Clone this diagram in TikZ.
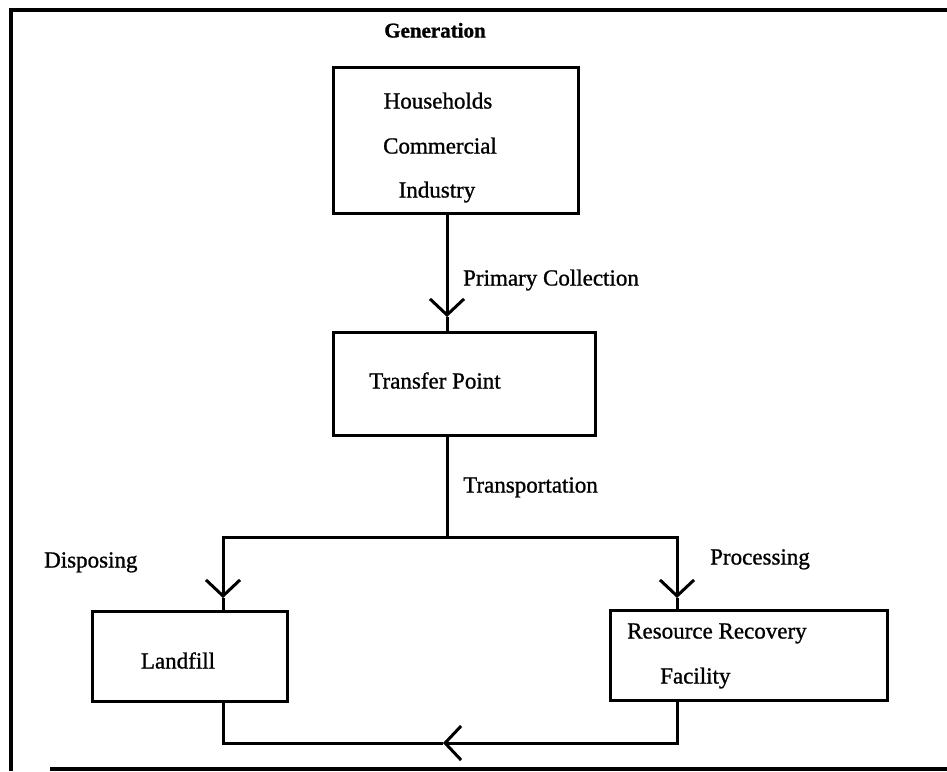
\documentclass[tikz,border=0pt]{standalone}
\usepackage{fontspec}
\setmainfont{Liberation Serif}[FakeBold=1.2]
\newfontfamily\heavyserif{Liberation Serif}[FakeBold=1.0]
\usetikzlibrary{arrows.meta}
\tikzset{
  flowbox/.style={draw, line width=3pt, inner sep=0pt},
  wire/.style={line width=3pt},
  flowtip/.style={-{Straight Barb[length=16pt,width=34pt,line width=3pt]}},
  lbl/.style={inner sep=0pt, font=\heavyserif\fontsize{23}{27}\selectfont,
              text height=16pt, text depth=5pt},
  frame/.style={line width=3.2pt}
}
\begin{document}
\begin{tikzpicture}[x=1pt,y=-1pt]
  \useasboundingbox (0,0) rectangle (947,771);

  % page frame
  \draw[frame] (947,10) -- (11,10) -- (11,771);
  \draw[frame] (50,769) -- (947,769);

  % stages
  \node[flowbox, minimum width=245pt, minimum height=146pt] (gen)      at (455.5,140) {};
  \node[flowbox, minimum width=262pt, minimum height=103pt] (transfer) at (464,383.5) {};
  \node[flowbox, minimum width=195pt, minimum height=90pt]  (landfill) at (189.5,656) {};
  \node[flowbox, minimum width=277pt, minimum height=90pt]  (rrf)      at (748.5,655) {};

  % box texts
  \node[lbl, font=\fontsize{21}{25}\selectfont\bfseries] (tgen) at (435,32) {Generation};
  \node[lbl] (thh)  at (438,103) {Households};
  \node[lbl] (tcom) at (440,148) {Commercial};
  \node[lbl] (tind) at (437,192) {Industry};
  \node[lbl] (ttp)  at (435,383) {Transfer Point};
  \node[lbl] (tlf)  at (178,663) {Landfill};
  \node[lbl, anchor=west] (trr)  at (627,633) {Resource Recovery};
  \node[lbl, anchor=west] (tfac) at (660,678) {Facility};

  % flow labels
  \node[lbl, anchor=west] (lpc)  at (463,280) {Primary Collection};
  \node[lbl, anchor=west] (ltr)  at (463,487) {Transportation};
  \node[lbl, anchor=west] (ldis) at (44,562)  {Disposing};
  \node[lbl, anchor=west] (lpro) at (710,559) {Processing};

  % routing points
  \coordinate (c1)   at (447,317);
  \coordinate (fork) at (447,537);
  \coordinate (lf)   at (223,537);
  \coordinate (rt)   at (677,537);
  \coordinate (c2)   at (223,598);
  \coordinate (c3)   at (677,598);
  \coordinate (br)   at (677,743);
  \coordinate (bl)   at (223,743);
  \coordinate (c4)   at (443,743);

  % primary collection
  \draw[wire, flowtip] (gen.south -| c1) -- (c1);
  \draw[wire] (c1) -- (c1 |- transfer.north);

  % transportation and split
  \draw[wire] (transfer.south -| fork) -- (fork);
  \draw[wire, line cap=rect] (lf) -- (rt);
  \draw[wire, flowtip] (lf) -- (c2);
  \draw[wire] (c2) -- (c2 |- landfill.north);
  \draw[wire, flowtip] (rt) -- (c3);
  \draw[wire] (c3) -- (c3 |- rrf.north);

  % residues back to landfill
  \draw[wire, flowtip] (rrf.south -| br) -- (br) -- (c4);
  \draw[wire] (c4) -- (bl) -- (landfill.south -| bl);
\end{tikzpicture}
\end{document}
